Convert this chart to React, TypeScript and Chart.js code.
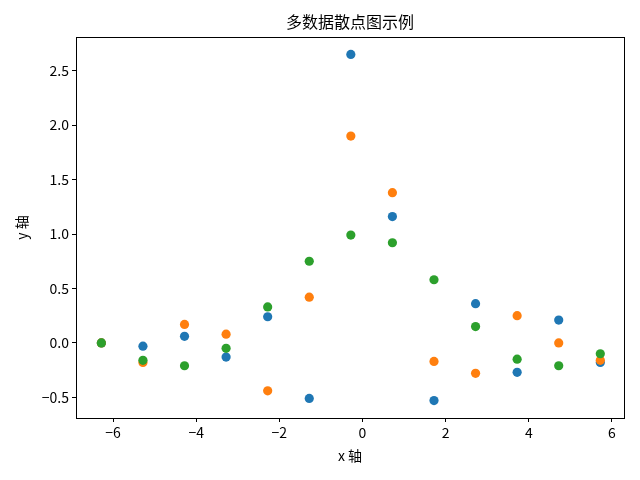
import React, { useEffect, useRef } from "react";
import { Chart, registerables } from "chart.js";

Chart.register(...registerables);

const xValues = [-6.28, -5.28, -4.28, -3.28, -2.28, -1.28, -0.28, 0.72, 1.72, 2.72, 3.72, 4.72, 5.72];
const series1 = [0.0, -0.03, 0.06, -0.13, 0.24, -0.51, 2.65, 1.16, -0.53, 0.36, -0.27, 0.21, -0.18];
const series2 = [0.0, -0.18, 0.17, 0.08, -0.44, 0.42, 1.9, 1.38, -0.17, -0.28, 0.25, 0.0, -0.16];
const series3 = [0.0, -0.16, -0.21, -0.05, 0.33, 0.75, 0.99, 0.92, 0.58, 0.15, -0.15, -0.21, -0.1];
const xTicks = [-6, -4, -2, 0, 2, 4, 6];
const yTicks = [-0.5, 0.0, 0.5, 1.0, 1.5, 2.0, 2.5];
const colors = ["#1f77b4", "#ff7f0e", "#2ca02c"];
const titleText = "多数据散点图示例";
const xLabel = "x 轴";
const yLabel = "y 轴";

const FONT = '"Noto Sans CJK SC", "DejaVu Sans", sans-serif';

const toPts = (ys: number[]) => ys.map((y, i) => ({ x: xValues[i], y }));

const framePlugin = {
  id: "frameAndText",
  afterDraw(chart: any) {
    const { ctx, chartArea } = chart;
    ctx.save();
    ctx.strokeStyle = "#000";
    ctx.lineWidth = 1;
    ctx.strokeRect(
      Math.round(chartArea.left) + 0.5,
      Math.round(chartArea.top) + 0.5,
      Math.round(chartArea.right - chartArea.left),
      Math.round(chartArea.bottom - chartArea.top)
    );
    const cx = (chartArea.left + chartArea.right) / 2;
    const cy = (chartArea.top + chartArea.bottom) / 2;
    ctx.fillStyle = "#000";
    ctx.textAlign = "center";
    ctx.textBaseline = "middle";
    ctx.font = `16px ${FONT}`;
    ctx.fillText(titleText, cx, 22);
    ctx.font = `14px ${FONT}`;
    ctx.fillText(xLabel, cx, 456);
    ctx.translate(22, cy);
    ctx.rotate(-Math.PI / 2);
    ctx.fillText(yLabel, 0, 0);
    ctx.restore();
  },
};

const fmtMinus = (s: string) => s.replace("-", "\u2212");

export default function App() {
  const ref = useRef<HTMLCanvasElement | null>(null);
  useEffect(() => {
    if (!ref.current) return;
    const mk = (label: string, ys: number[], color: string, order: number) => ({
      label,
      data: toPts(ys),
      backgroundColor: color,
      borderColor: color,
      borderWidth: 0,
      pointRadius: 4.6,
      pointHoverRadius: 4.6,
      order,
    });
    const chart = new Chart(ref.current, {
      type: "scatter",
      data: {
        datasets: [
          mk("数据1", series1, colors[0], 2),
          mk("数据2", series2, colors[1], 1),
          mk("数据3", series3, colors[2], 0),
        ],
      },
      options: {
        responsive: false,
        animation: false,
        events: [],
        layout: { padding: { top: 37, right: 16, left: 0, bottom: 0 } },
        plugins: { legend: { display: false }, title: { display: false }, tooltip: { enabled: false } },
        scales: {
          x: {
            type: "linear",
            min: -6.89,
            max: 6.29,
            afterBuildTicks: (s: any) => {
              s.ticks = xTicks.map((v) => ({ value: v }));
            },
            afterFit: (s: any) => {
              s.height = 62;
            },
            grid: { drawOnChartArea: false, drawTicks: true, tickLength: 4, color: "#000" },
            border: { display: false },
            ticks: {
              color: "#000",
              padding: 2,
              maxRotation: 0,
              autoSkip: false,
              font: { family: FONT, size: 14 },
              callback: (v: any) => fmtMinus(String(Math.round(Number(v)))),
            },
          },
          y: {
            type: "linear",
            min: -0.69,
            max: 2.81,
            afterBuildTicks: (s: any) => {
              s.ticks = yTicks.map((v) => ({ value: v }));
            },
            afterFit: (s: any) => {
              s.width = 76;
            },
            grid: { drawOnChartArea: false, drawTicks: true, tickLength: 4, color: "#000" },
            border: { display: false },
            ticks: {
              color: "#000",
              padding: 3,
              autoSkip: false,
              font: { family: FONT, size: 14 },
              callback: (v: any) => fmtMinus(Number(v).toFixed(1)),
            },
          },
        },
      },
      plugins: [framePlugin],
    } as any);
    return () => chart.destroy();
  }, []);
  return (
    <div style={{ position: "absolute", left: 0, top: 0, width: 640, height: 480, background: "#fff" }}>
      <canvas ref={ref} width={640} height={480} style={{ width: 640, height: 480 }} />
    </div>
  );
}
